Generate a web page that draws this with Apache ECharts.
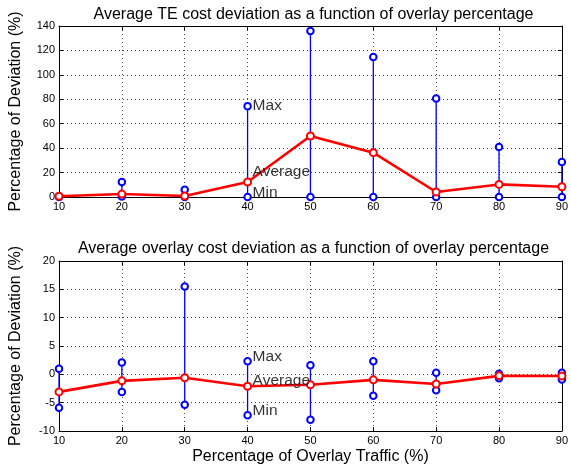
<!DOCTYPE html>
<html>
<head>
<meta charset="utf-8">
<script src="https://cdn.jsdelivr.net/npm/echarts@6/dist/echarts.min.js"></script>
<style>html,body{margin:0;padding:0;background:#fff}#c{width:571px;height:472px}</style>
</head>
<body>
<div id="c"></div>
<script>
// ---- data ----
const overlay = [10, 20, 30, 40, 50, 60, 70, 80, 90];
const teMax = [0.5, 12.3, 6, 74.4, 136, 114.6, 80.7, 40.9, 28.6];
const teAvg = [0.6, 2.4, 0.8, 12.3, 49.9, 36.3, 4.1, 10.3, 8.4];
const teMin = [0, 0.5, 0, 0, 0, 0, 0, 0, 0];
const ovMax = [1.0, 2.1, 15.5, 2.3, 1.6, 2.3, 0.3, 0.1, 0.3];
const ovAvg = [-3.1, -1.15, -0.6, -2.1, -1.85, -0.97, -1.7, -0.27, -0.3];
const ovMin = [-5.9, -3.1, -5.36, -7.2, -8.0, -3.8, -2.8, -0.7, -0.9];
const annoText = ['Max', 'Average', 'Min'];
const annoX = 40.8;
const teAnnoY = [74.4, 20.4, 3.8];
const ovAnnoY = [3.1, -1.15, -6.4];
const teTitle = 'Average TE cost deviation as a function of overlay percentage';
const ovTitle = 'Average overlay cost deviation as a function of overlay percentage';
const yName = 'Percentage of Deviation (%)';
const xName = 'Percentage of Overlay Traffic (%)';

const FONT = 'Liberation Sans, Arial, Helvetica, sans-serif';
const chart = echarts.init(document.getElementById('c'), null, {renderer: 'canvas'});

function pairs(v) { return overlay.map((x, i) => [x, v[i]]); }

function xAx(gi, showLabel, mirror) {
  return {
    type: 'value', gridIndex: gi, min: 10, max: 90, interval: 10,
    position: mirror ? 'top' : 'bottom',
    axisLine: {show: true, onZero: false, lineStyle: {color: '#000', width: 1}},
    axisTick: {show: true, inside: true, length: 4, lineStyle: {color: '#000'}},
    axisLabel: {show: showLabel, color: '#000', fontSize: 11, fontFamily: FONT, margin: 4},
    splitLine: {show: !mirror, lineStyle: {color: '#444', type: [1, 3], width: 1}}
  };
}
function yAx(gi, min, max, interval, mirror) {
  return {
    type: 'value', gridIndex: gi, min: min, max: max, interval: interval,
    position: mirror ? 'right' : 'left',
    name: mirror ? '' : yName, nameLocation: 'middle', nameGap: 35,
    nameTextStyle: {color: '#000', fontSize: 16, fontFamily: FONT},
    axisLine: {show: true, onZero: false, lineStyle: {color: '#000', width: 1}},
    axisTick: {show: true, inside: true, length: 4, lineStyle: {color: '#000'}},
    axisLabel: {show: !mirror, color: '#000', fontSize: 11, fontFamily: FONT, margin: 4},
    splitLine: {show: !mirror, lineStyle: {color: '#444', type: [1, 3], width: 1}}
  };
}

function stems(xi, yi, maxArr, minArr) {
  return {
    type: 'custom', xAxisIndex: xi, yAxisIndex: yi, silent: true, z: 2,
    data: overlay.map((x, i) => [x, minArr[i], maxArr[i]]),
    renderItem: function (params, api) {
      const p1 = api.coord([api.value(0), api.value(1)]);
      const p2 = api.coord([api.value(0), api.value(2)]);
      return {type: 'line', shape: {x1: p1[0], y1: p1[1], x2: p2[0], y2: p2[1]},
        style: {stroke: '#0000ff', lineWidth: 1.3}};
    }
  };
}
function marks(xi, yi, arr) {
  return {
    type: 'scatter', xAxisIndex: xi, yAxisIndex: yi, data: pairs(arr), z: 3,
    symbol: 'emptyCircle', symbolSize: 6.5, silent: true,
    itemStyle: {color: '#0000ff', borderColor: '#0000ff', borderWidth: 1.1, opacity: 1}
  };
}
function avgLine(xi, yi, arr) {
  return {
    type: 'line', xAxisIndex: xi, yAxisIndex: yi, data: pairs(arr), z: 4,
    symbol: 'emptyCircle', symbolSize: 7, silent: true,
    lineStyle: {color: '#ff0000', width: 2.6},
    itemStyle: {color: '#ff0000', borderColor: '#ff0000', borderWidth: 2}
  };
}
function anno(xi, yi, ys) {
  return {
    type: 'scatter', xAxisIndex: xi, yAxisIndex: yi, z: 5, silent: true,
    symbolSize: 0,
    data: ys.map((y, i) => ({value: [annoX, y], name: annoText[i]})),
    label: {show: true, position: 'right', distance: 0, formatter: '{b}',
      color: '#000', fontSize: 15.5, fontFamily: FONT}
  };
}

chart.setOption({
  animation: false,
  backgroundColor: '#fff',
  title: [
    {text: teTitle, left: 308.5, textAlign: 'center', top: 2,
      textStyle: {fontSize: 16, fontWeight: 'normal', color: '#000', fontFamily: FONT}},
    {text: ovTitle, left: 308.5, textAlign: 'center', top: 236,
      textStyle: {fontSize: 16, fontWeight: 'normal', color: '#000', fontFamily: FONT}}
  ],
  grid: [
    {left: 52, right: 6, top: 26, height: 171, show: false},
    {left: 52, right: 6, top: 261, height: 170, show: false}
  ],
  xAxis: [
    xAx(0, true, false), xAx(0, false, true),
    Object.assign(xAx(1, true, false), {name: xName, nameLocation: 'middle', nameGap: 18,
      nameTextStyle: {color: '#000', fontSize: 16, fontFamily: FONT}}),
    xAx(1, false, true)
  ],
  yAxis: [
    yAx(0, 0, 140, 20, false), yAx(0, 0, 140, 20, true),
    yAx(1, -10, 20, 5, false), yAx(1, -10, 20, 5, true)
  ],
  series: [
    stems(0, 0, teMax, teMin), marks(0, 0, teMax), marks(0, 0, teMin), avgLine(0, 0, teAvg), anno(0, 0, teAnnoY),
    stems(2, 2, ovMax, ovMin), marks(2, 2, ovMax), marks(2, 2, ovMin), avgLine(2, 2, ovAvg), anno(2, 2, ovAnnoY)
  ]
});
</script>
</body>
</html>
